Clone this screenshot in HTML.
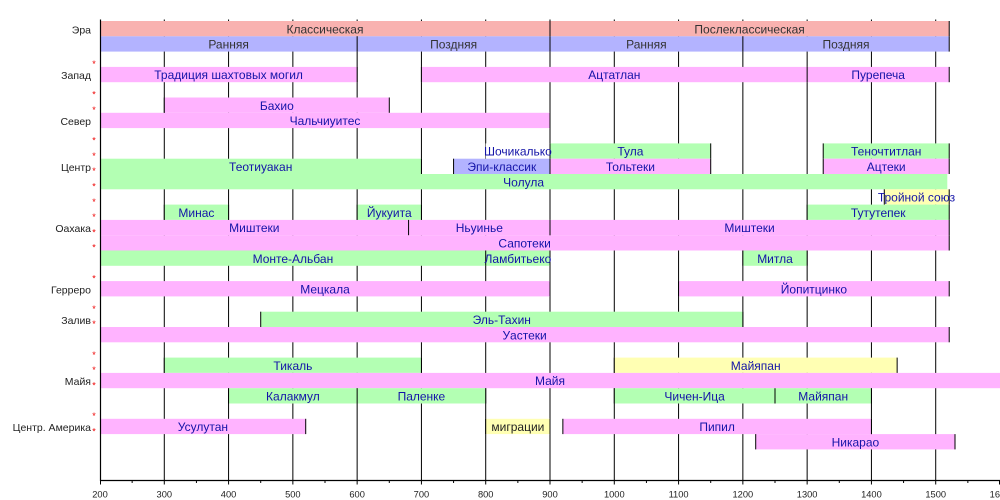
<!DOCTYPE html>
<html>
<head>
<meta charset="utf-8">
<style>
html,body{margin:0;padding:0;background:#fff;}
svg{display:block;}
text{font-family:"Liberation Sans","DejaVu Sans",sans-serif;}
.b{font-size:12px;fill:#1414a8;text-anchor:middle;}
.d{font-size:12px;fill:#333;text-anchor:middle;}
.lab{font-size:10.5px;fill:#222;text-anchor:end;}
.ax{font-size:9.3px;fill:#222;text-anchor:middle;}
.st{font-size:9px;fill:#e00;text-anchor:middle;}
</style>
</head>
<body>
<svg width="1000" height="500" viewBox="0 0 1000 500" xmlns="http://www.w3.org/2000/svg">
<rect x="0" y="0" width="1000" height="500" fill="#fff"/>

<!-- grid lines -->
<g stroke="#000" stroke-width="1">
<line x1="164.29" y1="19.5" x2="164.29" y2="480"/>
<line x1="228.57" y1="19.5" x2="228.57" y2="480"/>
<line x1="292.86" y1="19.5" x2="292.86" y2="480"/>
<line x1="357.14" y1="19.5" x2="357.14" y2="480"/>
<line x1="421.43" y1="19.5" x2="421.43" y2="480"/>
<line x1="485.71" y1="19.5" x2="485.71" y2="480"/>
<line x1="550" y1="19.5" x2="550" y2="480"/>
<line x1="614.29" y1="19.5" x2="614.29" y2="480"/>
<line x1="678.57" y1="19.5" x2="678.57" y2="480"/>
<line x1="742.86" y1="19.5" x2="742.86" y2="480"/>
<line x1="807.14" y1="19.5" x2="807.14" y2="480"/>
<line x1="871.43" y1="19.5" x2="871.43" y2="480"/>
<line x1="935.71" y1="19.5" x2="935.71" y2="480"/>
</g>

<!-- bars -->
<g>
<!-- row 0 -->
<rect x="100" y="21" width="450" height="15.3" fill="#f9b2b0"/>
<rect x="550" y="21" width="399.21" height="15.3" fill="#f9b2b0"/>
<!-- row 1 -->
<rect x="100" y="36.3" width="257.14" height="15.3" fill="#b3b3ff"/>
<rect x="357.14" y="36.3" width="192.86" height="15.3" fill="#b3b3ff"/>
<rect x="550" y="36.3" width="192.86" height="15.3" fill="#b3b3ff"/>
<rect x="742.86" y="36.3" width="206.35" height="15.3" fill="#b3b3ff"/>
<!-- row 3 -->
<rect x="100" y="66.9" width="257.14" height="15.3" fill="#ffb3ff"/>
<rect x="421.43" y="66.9" width="385.71" height="15.3" fill="#ffb3ff"/>
<rect x="807.14" y="66.9" width="142.07" height="15.3" fill="#ffb3ff"/>
<!-- row 5 -->
<rect x="164.29" y="97.5" width="225" height="15.3" fill="#ffb3ff"/>
<!-- row 6 -->
<rect x="100" y="112.8" width="450" height="15.3" fill="#ffb3ff"/>
<!-- row 8 -->
<rect x="485.71" y="143.4" width="64.29" height="15.3" fill="#fff"/>
<rect x="550" y="143.4" width="160.71" height="15.3" fill="#b3ffb3"/>
<rect x="823.21" y="143.4" width="126" height="15.3" fill="#b3ffb3"/>
<!-- row 9 -->
<rect x="100" y="158.7" width="321.43" height="15.3" fill="#b3ffb3"/>
<rect x="453.57" y="158.7" width="96.43" height="15.3" fill="#b3b3ff"/>
<rect x="550" y="158.7" width="160.71" height="15.3" fill="#ffb3ff"/>
<rect x="823.21" y="158.7" width="126" height="15.3" fill="#ffb3ff"/>
<!-- row 10 -->
<rect x="100" y="174" width="847.29" height="15.3" fill="#b3ffb3"/>
<!-- row 11 -->
<rect x="884.29" y="189.3" width="64.92" height="15.3" fill="#ffffb3"/>
<!-- row 12 -->
<rect x="164.29" y="204.6" width="64.28" height="15.3" fill="#b3ffb3"/>
<rect x="357.14" y="204.6" width="64.29" height="15.3" fill="#b3ffb3"/>
<rect x="807.14" y="204.6" width="142.07" height="15.3" fill="#b3ffb3"/>
<!-- row 13 -->
<rect x="100" y="219.9" width="849.21" height="15.3" fill="#ffb3ff"/>
<!-- row 14 -->
<rect x="100" y="235.2" width="849.21" height="15.3" fill="#ffb3ff"/>
<!-- row 15 -->
<rect x="100" y="250.5" width="450" height="15.3" fill="#b3ffb3"/>
<rect x="742.86" y="250.5" width="64.28" height="15.3" fill="#b3ffb3"/>
<!-- row 17 -->
<rect x="100" y="281.1" width="450" height="15.3" fill="#ffb3ff"/>
<rect x="678.57" y="281.1" width="270.64" height="15.3" fill="#ffb3ff"/>
<!-- row 19 -->
<rect x="260.71" y="311.7" width="482.15" height="15.3" fill="#b3ffb3"/>
<!-- row 20 -->
<rect x="100" y="327" width="849.21" height="15.3" fill="#ffb3ff"/>
<!-- row 22 -->
<rect x="164.29" y="357.6" width="257.14" height="15.3" fill="#b3ffb3"/>
<rect x="614.29" y="357.6" width="282.85" height="15.3" fill="#ffffb3"/>
<!-- row 23 -->
<rect x="100" y="372.9" width="900" height="15.3" fill="#ffb3ff"/>
<!-- row 24 -->
<rect x="228.57" y="388.2" width="257.14" height="15.3" fill="#b3ffb3"/>
<rect x="614.29" y="388.2" width="257.14" height="15.3" fill="#b3ffb3"/>
<!-- row 26 -->
<rect x="100" y="418.8" width="205.71" height="15.3" fill="#ffb3ff"/>
<rect x="485.71" y="418.8" width="64.29" height="15.3" fill="#ffffb3"/>
<rect x="562.86" y="418.8" width="308.57" height="15.3" fill="#ffb3ff"/>
<!-- row 27 -->
<rect x="755.71" y="434.1" width="199.29" height="15.3" fill="#ffb3ff"/>
</g>

<!-- bar edge lines -->
<g stroke="#000" stroke-width="1">
<!-- row 0 -->
<line x1="550" y1="21" x2="550" y2="36.3"/>
<line x1="949.21" y1="21" x2="949.21" y2="36.3"/>
<!-- row 1 -->
<line x1="357.14" y1="36.3" x2="357.14" y2="51.6"/>
<line x1="550" y1="36.3" x2="550" y2="51.6"/>
<line x1="742.86" y1="36.3" x2="742.86" y2="51.6"/>
<line x1="949.21" y1="36.3" x2="949.21" y2="51.6"/>
<!-- row 3 -->
<line x1="357.14" y1="66.9" x2="357.14" y2="82.2"/>
<line x1="421.43" y1="66.9" x2="421.43" y2="82.2"/>
<line x1="807.14" y1="66.9" x2="807.14" y2="82.2"/>
<line x1="949.21" y1="66.9" x2="949.21" y2="82.2"/>
<!-- row 5 -->
<line x1="164.29" y1="97.5" x2="164.29" y2="112.8"/>
<line x1="389.29" y1="97.5" x2="389.29" y2="112.8"/>
<!-- row 6 -->
<line x1="550" y1="112.8" x2="550" y2="128.1"/>
<!-- row 8 -->
<line x1="550" y1="143.4" x2="550" y2="158.7"/>
<line x1="710.71" y1="143.4" x2="710.71" y2="158.7"/>
<line x1="823.21" y1="143.4" x2="823.21" y2="158.7"/>
<line x1="949.21" y1="143.4" x2="949.21" y2="158.7"/>
<!-- row 9 -->
<line x1="421.43" y1="158.7" x2="421.43" y2="174"/>
<line x1="453.57" y1="158.7" x2="453.57" y2="174"/>
<line x1="550" y1="158.7" x2="550" y2="174"/>
<line x1="710.71" y1="158.7" x2="710.71" y2="174"/>
<line x1="823.21" y1="158.7" x2="823.21" y2="174"/>
<line x1="949.21" y1="158.7" x2="949.21" y2="174"/>
<!-- row 11 -->
<line x1="884.29" y1="189.3" x2="884.29" y2="204.6"/>
<line x1="949.21" y1="189.3" x2="949.21" y2="204.6"/>
<!-- row 12 -->
<line x1="164.29" y1="204.6" x2="164.29" y2="219.9"/>
<line x1="228.57" y1="204.6" x2="228.57" y2="219.9"/>
<line x1="357.14" y1="204.6" x2="357.14" y2="219.9"/>
<line x1="421.43" y1="204.6" x2="421.43" y2="219.9"/>
<line x1="807.14" y1="204.6" x2="807.14" y2="219.9"/>
<line x1="949.21" y1="204.6" x2="949.21" y2="219.9"/>
<!-- row 13 -->
<line x1="408.57" y1="219.9" x2="408.57" y2="235.2"/>
<line x1="550" y1="219.9" x2="550" y2="235.2"/>
<line x1="949.21" y1="219.9" x2="949.21" y2="235.2"/>
<!-- row 14 -->
<line x1="949.21" y1="235.2" x2="949.21" y2="250.5"/>
<!-- row 15 -->
<line x1="485.71" y1="250.5" x2="485.71" y2="265.8"/>
<line x1="550" y1="250.5" x2="550" y2="265.8"/>
<line x1="742.86" y1="250.5" x2="742.86" y2="265.8"/>
<line x1="807.14" y1="250.5" x2="807.14" y2="265.8"/>
<!-- row 17 -->
<line x1="550" y1="281.1" x2="550" y2="296.4"/>
<line x1="678.57" y1="281.1" x2="678.57" y2="296.4"/>
<line x1="949.21" y1="281.1" x2="949.21" y2="296.4"/>
<!-- row 19 -->
<line x1="260.71" y1="311.7" x2="260.71" y2="327"/>
<line x1="742.86" y1="311.7" x2="742.86" y2="327"/>
<!-- row 20 -->
<line x1="949.21" y1="327" x2="949.21" y2="342.3"/>
<!-- row 22 -->
<line x1="164.29" y1="357.6" x2="164.29" y2="372.9"/>
<line x1="421.43" y1="357.6" x2="421.43" y2="372.9"/>
<line x1="614.29" y1="357.6" x2="614.29" y2="372.9"/>
<line x1="897.14" y1="357.6" x2="897.14" y2="372.9"/>
<!-- row 24 -->
<line x1="228.57" y1="388.2" x2="228.57" y2="403.5"/>
<line x1="357.14" y1="388.2" x2="357.14" y2="403.5"/>
<line x1="485.71" y1="388.2" x2="485.71" y2="403.5"/>
<line x1="614.29" y1="388.2" x2="614.29" y2="403.5"/>
<line x1="775" y1="388.2" x2="775" y2="403.5"/>
<line x1="871.43" y1="388.2" x2="871.43" y2="403.5"/>
<!-- row 26 -->
<line x1="305.71" y1="418.8" x2="305.71" y2="434.1"/>
<line x1="485.71" y1="418.8" x2="485.71" y2="434.1"/>
<line x1="550" y1="418.8" x2="550" y2="434.1"/>
<line x1="562.86" y1="418.8" x2="562.86" y2="434.1"/>
<line x1="871.43" y1="418.8" x2="871.43" y2="434.1"/>
<!-- row 27 -->
<line x1="755.71" y1="434.1" x2="755.71" y2="449.4"/>
<line x1="955" y1="434.1" x2="955" y2="449.4"/>
</g>

<!-- axes -->
<g stroke="#000">
<line x1="100.5" y1="19.5" x2="100.5" y2="481" stroke-width="1.2"/>
<line x1="100" y1="480.5" x2="1000" y2="480.5" stroke-width="1.2"/>
<g stroke-width="1">
<line x1="100.5" y1="480" x2="100.5" y2="484.5"/>
<line x1="164.29" y1="480" x2="164.29" y2="484.5"/>
<line x1="228.57" y1="480" x2="228.57" y2="484.5"/>
<line x1="292.86" y1="480" x2="292.86" y2="484.5"/>
<line x1="357.14" y1="480" x2="357.14" y2="484.5"/>
<line x1="421.43" y1="480" x2="421.43" y2="484.5"/>
<line x1="485.71" y1="480" x2="485.71" y2="484.5"/>
<line x1="550" y1="480" x2="550" y2="484.5"/>
<line x1="614.29" y1="480" x2="614.29" y2="484.5"/>
<line x1="678.57" y1="480" x2="678.57" y2="484.5"/>
<line x1="742.86" y1="480" x2="742.86" y2="484.5"/>
<line x1="807.14" y1="480" x2="807.14" y2="484.5"/>
<line x1="871.43" y1="480" x2="871.43" y2="484.5"/>
<line x1="935.71" y1="480" x2="935.71" y2="484.5"/>
<line x1="999.5" y1="480" x2="999.5" y2="484.5"/>
<line x1="132.14" y1="480" x2="132.14" y2="483"/>
<line x1="196.43" y1="480" x2="196.43" y2="483"/>
<line x1="260.71" y1="480" x2="260.71" y2="483"/>
<line x1="325" y1="480" x2="325" y2="483"/>
<line x1="389.29" y1="480" x2="389.29" y2="483"/>
<line x1="453.57" y1="480" x2="453.57" y2="483"/>
<line x1="517.86" y1="480" x2="517.86" y2="483"/>
<line x1="582.14" y1="480" x2="582.14" y2="483"/>
<line x1="646.43" y1="480" x2="646.43" y2="483"/>
<line x1="710.71" y1="480" x2="710.71" y2="483"/>
<line x1="775" y1="480" x2="775" y2="483"/>
<line x1="839.29" y1="480" x2="839.29" y2="483"/>
<line x1="903.57" y1="480" x2="903.57" y2="483"/>
<line x1="967.86" y1="480" x2="967.86" y2="483"/>
</g>
</g>

<!-- axis labels -->
<g class="ax">
<text class="ax" x="100" y="497.5">200</text>
<text class="ax" x="164.29" y="497.5">300</text>
<text class="ax" x="228.57" y="497.5">400</text>
<text class="ax" x="292.86" y="497.5">500</text>
<text class="ax" x="357.14" y="497.5">600</text>
<text class="ax" x="421.43" y="497.5">700</text>
<text class="ax" x="485.71" y="497.5">800</text>
<text class="ax" x="550" y="497.5">900</text>
<text class="ax" x="614.29" y="497.5">1000</text>
<text class="ax" x="678.57" y="497.5">1100</text>
<text class="ax" x="742.86" y="497.5">1200</text>
<text class="ax" x="807.14" y="497.5">1300</text>
<text class="ax" x="871.43" y="497.5">1400</text>
<text class="ax" x="935.71" y="497.5">1500</text>
<text class="ax" x="1000" y="497.5">1600</text>
</g>

<!-- row labels -->
<text class="lab" x="91" y="33.3">Эра</text>
<text class="lab" x="91" y="79.2">Запад</text>
<text class="lab" x="91" y="125.1">Север</text>
<text class="lab" x="91" y="171">Центр</text>
<text class="lab" x="91" y="232.2">Оахака</text>
<text class="lab" x="91" y="293.4">Герреро</text>
<text class="lab" x="91" y="324">Залив</text>
<text class="lab" x="91" y="385.2">Майя</text>
<text class="lab" x="91" y="431.1">Центр. Америка</text>

<!-- red stars -->
<text class="st" x="94" y="67.1">*</text>
<text class="st" x="94" y="97.7">*</text>
<text class="st" x="94" y="113">*</text>
<text class="st" x="94" y="143.6">*</text>
<text class="st" x="94" y="158.9">*</text>
<text class="st" x="94" y="174.2">*</text>
<text class="st" x="94" y="189.5">*</text>
<text class="st" x="94" y="204.8">*</text>
<text class="st" x="94" y="220.1">*</text>
<text class="st" x="94" y="235.4">*</text>
<text class="st" x="94" y="250.7">*</text>
<text class="st" x="94" y="281.3">*</text>
<text class="st" x="94" y="311.9">*</text>
<text class="st" x="94" y="327.2">*</text>
<text class="st" x="94" y="357.8">*</text>
<text class="st" x="94" y="373.1">*</text>
<text class="st" x="94" y="388.4">*</text>
<text class="st" x="94" y="419">*</text>
<text class="st" x="94" y="434.3">*</text>

<!-- bar labels -->
<text class="d" x="325" y="33.3">Классическая</text>
<text class="d" x="749.6" y="33.3">Послеклассическая</text>
<text class="d" x="228.6" y="48.6">Ранняя</text>
<text class="d" x="453.6" y="48.6">Поздняя</text>
<text class="d" x="646.4" y="48.6">Ранняя</text>
<text class="d" x="846" y="48.6">Поздняя</text>

<text class="b" x="228.6" y="79.2">Традиция шахтовых могил</text>
<text class="b" x="614.3" y="79.2">Ацтатлан</text>
<text class="b" x="878.2" y="79.2">Пурепеча</text>

<text class="b" x="276.8" y="109.8">Бахио</text>
<text class="b" x="325" y="125.1">Чальчиуитес</text>

<text class="b" x="517.9" y="155.7">Шочикалько</text>
<text class="b" x="630.4" y="155.7">Тула</text>
<text class="b" x="886.2" y="155.7">Теночтитлан</text>

<text class="b" x="260.7" y="171">Теотиуакан</text>
<text class="b" x="501.8" y="171">Эпи-классик</text>
<text class="b" x="630.4" y="171">Тольтеки</text>
<text class="b" x="886.2" y="171">Ацтеки</text>

<text class="b" x="523.6" y="186.3">Чолула</text>
<text class="b" x="916.5" y="201.6">Тройной союз</text>

<text class="b" x="196.4" y="216.9">Минас</text>
<text class="b" x="389.3" y="216.9">Йукуита</text>
<text class="b" x="878.2" y="216.9">Тутутепек</text>

<text class="b" x="254.3" y="232.2">Миштеки</text>
<text class="b" x="479.3" y="232.2">Ньуинье</text>
<text class="b" x="749.6" y="232.2">Миштеки</text>

<text class="b" x="524.6" y="247.5">Сапотеки</text>

<text class="b" x="292.9" y="262.8">Монте-Альбан</text>
<text class="b" x="517.9" y="262.8">Ламбитьеко</text>
<text class="b" x="775" y="262.8">Митла</text>

<text class="b" x="325" y="293.4">Мецкала</text>
<text class="b" x="813.9" y="293.4">Йопитцинко</text>

<text class="b" x="501.8" y="324">Эль-Тахин</text>
<text class="b" x="524.6" y="339.3">Уастеки</text>

<text class="b" x="292.9" y="369.9">Тикаль</text>
<text class="b" x="755.7" y="369.9">Майяпан</text>
<text class="b" x="550" y="385.2">Майя</text>

<text class="b" x="292.9" y="400.5">Калакмул</text>
<text class="b" x="421.4" y="400.5">Паленке</text>
<text class="b" x="694.6" y="400.5">Чичен-Ица</text>
<text class="b" x="823.2" y="400.5">Майяпан</text>

<text class="b" x="202.9" y="431.1">Усулутан</text>
<text class="d" x="517.9" y="431.1" style="fill:#222">миграции</text>
<text class="b" x="717.1" y="431.1">Пипил</text>
<text class="b" x="855.4" y="446.4">Никарао</text>
</svg>
</body>
</html>
